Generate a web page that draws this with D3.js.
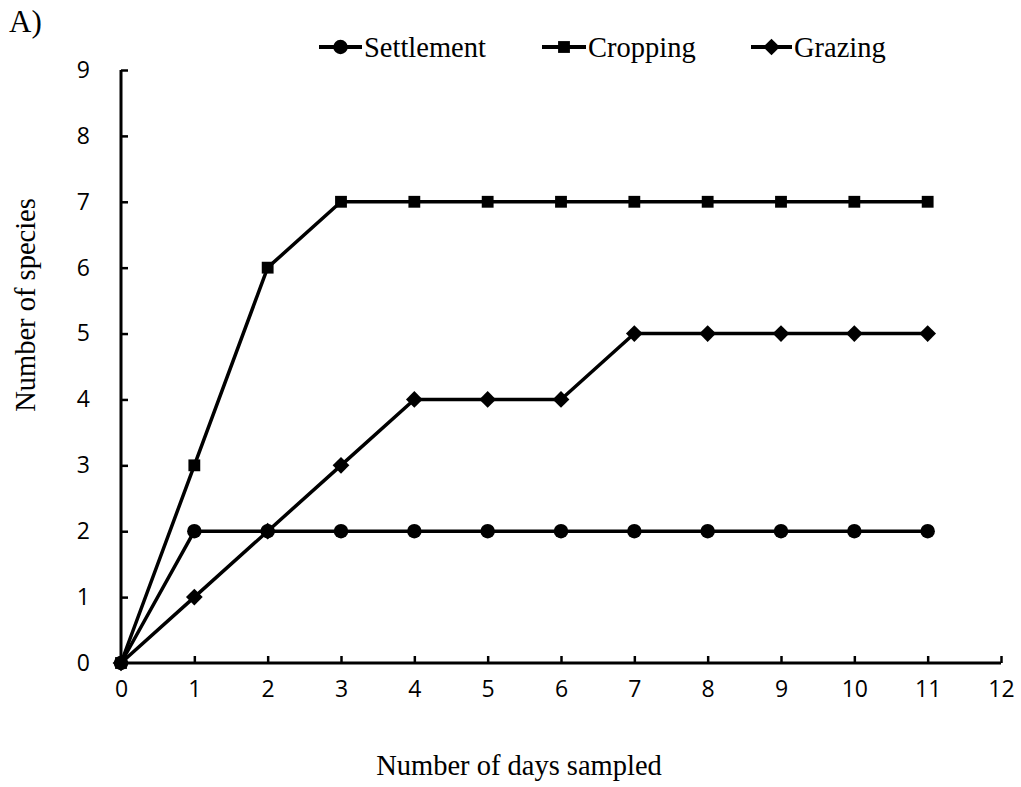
<!DOCTYPE html>
<html><head><meta charset="utf-8">
<script src="https://cdn.jsdelivr.net/npm/d3@7"></script>
<style>body{margin:0;background:#fff}svg{display:block}</style>
</head><body><svg id="c" width="1021" height="787"></svg>
<script>
const days = [0,1,2,3,4,5,6,7,8,9,10,11];
const settlement = [0,2,2,2,2,2,2,2,2,2,2,2];
const cropping = [0,3,6,7,7,7,7,7,7,7,7,7];
const grazing = [0,1,2,3,4,4,4,5,5,5,5,5];
const xTicks = [0,1,2,3,4,5,6,7,8,9,10,11,12];
const yTicks = [0,1,2,3,4,5,6,7,8,9];
const seriesNames = ["Settlement","Cropping","Grazing"];

const svg = d3.select("#c");
const x = d3.scaleLinear().domain([0,12]).range([121,1001]);
const y = d3.scaleLinear().domain([0,9]).range([663,70]);
const sansFont = "'Open Sans', 'Liberation Sans', sans-serif";
const serifFont = "'Liberation Serif', 'Times New Roman', serif";

// axes
const xAxis = d3.axisBottom(x).tickValues(xTicks).tickSize(-7).tickPadding(18).tickFormat(d3.format("d"));
const gx = svg.append("g").attr("transform",`translate(0,${y(0)})`).call(xAxis);
const yAxis = d3.axisLeft(y).tickValues(yTicks).tickSize(-7).tickPadding(31).tickFormat(d3.format("d"));
const gy = svg.append("g").attr("transform",`translate(${x(0)},0)`).call(yAxis);
[gx,gy].forEach(g=>{
  g.select(".domain").attr("stroke","#000").attr("stroke-width",3);
  g.selectAll(".tick line").attr("stroke","#000").attr("stroke-width",2.5);
  g.selectAll(".tick text").attr("font-family",sansFont).attr("font-size",23).attr("fill","#000");
});
gx.select(".domain").attr("d",`M${x(0)},0H${x(12)}`);
gy.select(".domain").attr("d",`M0,${y(0)}V${y(9)}`);

const line = d3.line().x((d,i)=>x(days[i])).y(d=>y(d));
const data = [settlement, cropping, grazing];
const syms = [d3.symbolCircle, d3.symbolSquare, d3.symbolSquare];
const symSizes = [165, 140, 140];
const symXf = ["", "", " rotate(45)"];

data.forEach((s,k)=>{
  svg.append("path").datum(s).attr("d",line).attr("fill","none").attr("stroke","#000").attr("stroke-width",3.5).attr("stroke-linejoin","round");
});
data.forEach((s,k)=>{
  svg.append("g").selectAll("path").data(s).join("path")
    .attr("d",d3.symbol().type(syms[k]).size(symSizes[k]))
    .attr("transform",(d,i)=>`translate(${x(days[i])},${y(d)})`+symXf[k])
    .attr("fill","#000");
});

// legend
const legX = [319, 542, 751];
const legW = [43, 44, 41];
seriesNames.forEach((n,k)=>{
  const g = svg.append("g").attr("transform",`translate(${legX[k]},47)`);
  g.append("line").attr("x1",0).attr("x2",legW[k]).attr("y1",0).attr("y2",0).attr("stroke","#000").attr("stroke-width",4);
  g.append("path").attr("d",d3.symbol().type(syms[k]).size(symSizes[k])).attr("transform",`translate(${legW[k]/2},0)`+symXf[k]).attr("fill","#000");
  g.append("text").attr("x",legW[k]+2).attr("y",10).attr("font-family",serifFont).attr("font-size",28.5).attr("fill","#000").text(n);
});

// titles
svg.append("text").attr("x",9).attr("y",32).attr("font-family",serifFont).attr("font-size",31).text("A)");
svg.append("text").attr("transform","translate(35,305) rotate(-90)").attr("text-anchor","middle").attr("font-family",serifFont).attr("font-size",28.5).text("Number of species");
svg.append("text").attr("x",519).attr("y",775).attr("text-anchor","middle").attr("font-family",serifFont).attr("font-size",28.5).text("Number of days sampled");
</script></body></html>
